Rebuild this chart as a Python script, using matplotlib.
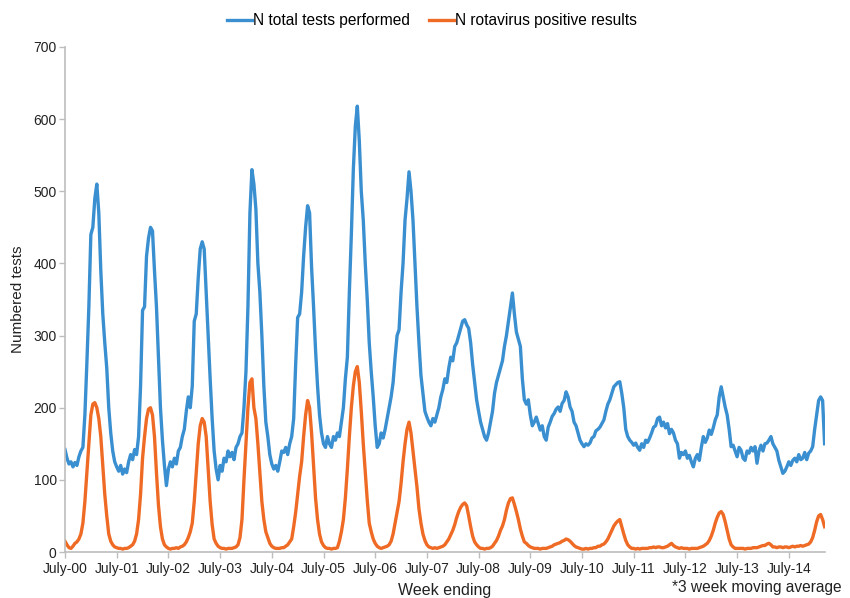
import numpy as np
import matplotlib
matplotlib.use('Agg')
import matplotlib.pyplot as plt

plt.rcParams['font.family'] = ['Liberation Sans', 'DejaVu Sans']

# 3 week moving average, sampled every 2 weeks from July 2000
total_tests = [
    142, 130, 122, 125, 118, 124, 120, 132, 140, 145, 190, 262, 340, 440, 450, 490, 510, 470, 390, 330, 290, 255, 200, 165, 140, 125,
    118, 112, 120, 108, 115, 110, 125, 135, 128, 142, 135, 160, 230, 335, 340, 410, 435, 450, 445, 390, 340, 270, 200, 155, 120, 92,
    115, 125, 118, 130, 122, 140, 145, 160, 170, 195, 215, 200, 230, 320, 330, 380, 420, 430, 420, 360, 300, 240, 185, 140,
    115, 100, 120, 112, 130, 125, 140, 132, 138, 128, 145, 150, 160, 165, 200, 250, 340, 470, 530, 510, 475, 400, 360, 300, 230, 180,
    160, 135, 122, 115, 120, 112, 125, 140, 138, 145, 135, 150, 160, 185, 260, 325, 330, 360, 410, 450, 480, 470, 395, 340, 280, 230,
    190, 165, 150, 145, 160, 150, 145, 160, 155, 165, 160, 180, 200, 240, 270, 360, 440, 530, 590, 618, 570, 500, 460, 400, 350, 290,
    250, 215, 175, 145, 150, 165, 158, 170, 185, 200, 215, 235, 270, 300, 308, 360, 400, 460, 490, 527, 500, 460, 400, 340, 290, 245,
    220, 195, 187, 180, 175, 185, 180, 190, 200, 215, 225, 240, 235, 255, 270, 265, 285, 290, 300, 310, 320, 322, 315, 310, 290, 260,
    235, 211, 195, 180, 170, 160, 155, 165, 180, 195, 220, 235, 245, 255, 265, 285, 300, 320, 340, 359, 330, 305, 295, 285, 240, 211,
    205, 211, 190, 175, 180, 187, 178, 169, 175, 160, 155, 173, 180, 188, 192, 198, 201, 195, 206, 210, 222, 215, 201, 195, 180, 175,
    165, 155, 150, 146, 150, 148, 151, 158, 160, 168, 170, 173, 178, 183, 195, 205, 211, 220, 229, 232, 235, 236, 220, 200, 170, 160,
    155, 152, 148, 151, 145, 141, 150, 145, 155, 152, 158, 165, 173, 175, 185, 187, 175, 180, 172, 178, 164, 170, 165, 155, 150, 130,
    138, 135, 140, 130, 134, 125, 118, 130, 135, 127, 145, 160, 152, 158, 169, 163, 172, 183, 190, 215, 229, 215, 201, 190, 170, 146,
    148, 140, 132, 145, 141, 130, 127, 140, 137, 145, 140, 146, 123, 140, 148, 140, 150, 151, 155, 160, 150, 145, 140, 127, 118, 109,
    112, 118, 125, 120, 127, 130, 125, 135, 128, 130, 138, 128, 137, 140, 146, 170, 190, 210, 215, 210, 150,
]

rota_positive = [
    15, 10, 6, 5, 8, 12, 14, 18, 25, 40, 70, 110, 150, 190, 205, 207, 200, 185, 160, 120, 80, 50, 25, 15, 10, 7,
    6, 5, 5, 4, 5, 5, 6, 8, 10, 15, 25, 45, 80, 130, 160, 185, 198, 200, 190, 160, 110, 65, 35, 18, 10, 7,
    5, 4, 5, 5, 6, 5, 7, 8, 10, 14, 20, 28, 40, 70, 110, 150, 175, 185, 180, 160, 115, 70, 38, 18,
    12, 8, 6, 5, 5, 4, 5, 5, 5, 6, 7, 10, 20, 45, 100, 150, 200, 235, 240, 200, 185, 150, 110, 70, 45, 28,
    20, 12, 8, 6, 5, 5, 5, 6, 6, 8, 10, 14, 18, 35, 55, 80, 105, 125, 160, 190, 210, 200, 165, 120, 75, 45,
    25, 14, 9, 6, 5, 5, 4, 5, 5, 6, 15, 28, 45, 75, 115, 160, 200, 230, 250, 257, 235, 195, 150, 110, 72, 40,
    28, 18, 12, 8, 6, 5, 6, 7, 8, 10, 15, 25, 40, 55, 70, 95, 125, 150, 170, 180, 165, 140, 115, 90, 60, 40,
    25, 16, 10, 7, 6, 5, 6, 5, 6, 7, 8, 10, 14, 18, 24, 30, 38, 48, 56, 62, 66, 68, 64, 50, 35, 22,
    14, 10, 7, 5, 5, 4, 5, 5, 6, 8, 12, 16, 22, 30, 36, 45, 58, 68, 74, 75, 66, 56, 45, 32, 22, 14,
    12, 9, 7, 6, 5, 5, 5, 4, 5, 5, 5, 6, 7, 8, 10, 11, 12, 13, 15, 16, 18, 17, 15, 12, 9, 7,
    6, 5, 4, 4, 5, 4, 5, 5, 6, 6, 8, 8, 10, 11, 14, 18, 24, 30, 36, 40, 43, 45, 35, 25, 16, 10,
    7, 5, 5, 4, 5, 4, 5, 5, 5, 5, 6, 6, 7, 6, 7, 7, 6, 6, 7, 8, 10, 12, 9, 7, 6, 5,
    6, 5, 5, 5, 4, 5, 5, 5, 5, 6, 7, 8, 10, 12, 16, 22, 30, 40, 48, 54, 56, 52, 42, 30, 18, 10,
    7, 5, 5, 5, 5, 5, 4, 5, 5, 5, 6, 6, 6, 7, 8, 9, 9, 11, 12, 10, 7, 7, 6, 7, 7, 6,
    7, 7, 6, 7, 8, 7, 8, 8, 9, 8, 9, 10, 11, 14, 20, 30, 42, 50, 52, 45, 35,
]

tick_labels = ['July-%02d' % y for y in range(0, 15)]

# x in years since July 2000 (2 week spacing)
x = np.arange(len(total_tests)) / 26.0

fig = plt.figure(figsize=(8.5, 5.98), dpi=100)
ax = fig.add_axes([65 / 850, 46 / 598, 760 / 850, 505 / 598])

ax.plot(x, total_tests, color='#3a8fd0', lw=2.4, label='N total tests performed', solid_joinstyle='round')
ax.plot(x, rota_positive, color='#ef6b25', lw=2.4, label='N rotavirus positive results', solid_joinstyle='round')

ax.set_xlim(0, 14.7)
ax.set_ylim(0, 700)
ax.set_yticks(range(0, 701, 100))
ax.set_xticks(range(len(tick_labels)))
ax.set_xticklabels(tick_labels)

for s in ['top', 'right']:
    ax.spines[s].set_visible(False)
for s in ['left', 'bottom']:
    ax.spines[s].set_color('#bdbdbd')
    ax.spines[s].set_linewidth(1.2)
ax.tick_params(axis='both', colors='#bdbdbd', labelcolor='#222222', labelsize=10, length=4, width=1)
ax.tick_params(axis='x', pad=3)
ax.tick_params(axis='y', pad=2)

ax.set_ylabel('Numbered tests', fontsize=11, color='#222222', labelpad=6)
ax.set_xlabel('Week ending', fontsize=11.5, color='#222222', labelpad=5)
fig.text(672 / 850, 3 / 598, '*3 week moving average', fontsize=11.2, color='#222222', va='bottom')

ax.legend(loc='upper center', bbox_to_anchor=(432 / 850, 1 - 7 / 598), bbox_transform=fig.transFigure,
          ncol=2, frameon=False, fontsize=11.2, handlelength=1.6, handletextpad=0.1,
          columnspacing=1.2, borderaxespad=0)

fig.savefig('out.png', dpi=100)
